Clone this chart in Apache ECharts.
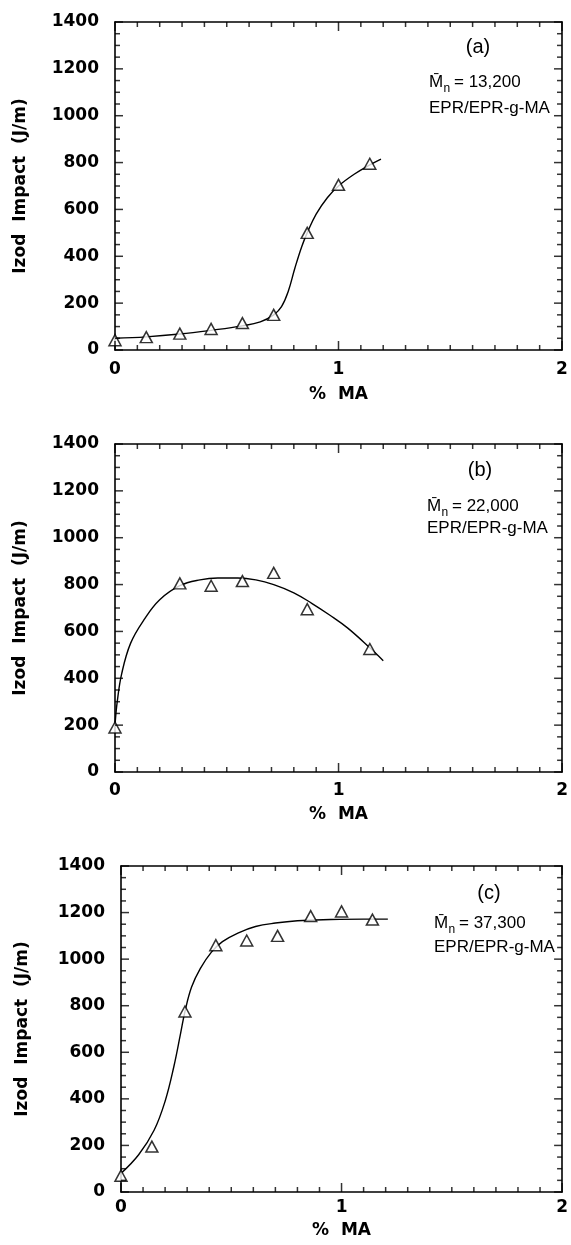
<!DOCTYPE html>
<html>
<head>
<meta charset="utf-8">
<style>html,body{margin:0;padding:0;background:#fff;}#chart{width:571px;height:1245px;}</style>
<script src="https://cdn.jsdelivr.net/npm/echarts@6/dist/echarts.min.js"></script>
</head>
<body>
<div id="chart"></div>
<script>
// ---- data ----
var xTickLabels = ['0', '1', '2'];
var yTickLabels = ['0', '200', '400', '600', '800', '1000', '1200', '1400'];
var xTickValues = [0, 0.1, 0.2, 0.3, 0.4, 0.5, 0.6, 0.7, 0.8, 0.9, 1, 1.1, 1.2, 1.3, 1.4, 1.5, 1.6, 1.7, 1.8, 1.9, 2];
var yTickValues = [0, 50, 100, 150, 200, 250, 300, 350, 400, 450, 500, 550, 600, 650, 700, 750, 800, 850, 900, 950, 1000, 1050, 1100, 1150, 1200, 1250, 1300, 1350, 1400];

// panel (a)  Mn = 13,200
var maA = [0, 0.14, 0.29, 0.43, 0.57, 0.71, 0.86, 1.0, 1.14];
var impactA = [42, 55, 70, 90, 115, 150, 500, 705, 795];
var curveAx = [0, 0.14, 0.29, 0.43, 0.57, 0.65, 0.71, 0.745, 0.775, 0.805, 0.835, 0.86, 0.9, 0.95, 1.0, 1.07, 1.14, 1.19];
var curveAy = [50, 56, 68, 84, 103, 120, 150, 185, 250, 350, 440, 500, 580, 650, 700, 750, 790, 815];

// panel (b)  Mn = 22,000
var maB = [0, 0.29, 0.43, 0.57, 0.71, 0.86, 1.14];
var impactB = [190, 805, 795, 815, 850, 695, 525];
var curveBx = [0, 0.01, 0.03, 0.07, 0.13, 0.2, 0.29, 0.38, 0.46, 0.55, 0.63, 0.71, 0.8, 0.88, 0.96, 1.04, 1.14, 1.2];
var curveBy = [200, 300, 420, 550, 650, 735, 795, 820, 828, 828, 820, 800, 765, 720, 670, 615, 530, 475];

// panel (c)  Mn = 37,300
var maC = [0, 0.14, 0.29, 0.43, 0.57, 0.71, 0.86, 1.0, 1.14];
var impactC = [70, 195, 775, 1060, 1080, 1100, 1185, 1205, 1170];
var curveCx = [0, 0.08, 0.15, 0.2, 0.24, 0.27, 0.29, 0.32, 0.36, 0.41, 0.46, 0.53, 0.61, 0.7, 0.8, 0.95, 1.1, 1.21];
var curveCy = [80, 160, 265, 390, 540, 680, 775, 880, 960, 1030, 1075, 1112, 1140, 1155, 1165, 1170, 1172, 1172];

var panelLetters = ['(a)', '(b)', '(c)'];
var mnValues = ['13,200', '22,000', '37,300'];
var blendLabel = 'EPR/EPR-g-MA';
var xName = '%  MA';
var yName = 'Izod  Impact  (J/m)';

// ---- layout ----
var X_MIN = 0, X_MAX = 2, Y_MIN = 0, Y_MAX = 1400;
var grids = [
  {left: 115, top: 22, width: 447, height: 328, xMargin: 11, nameGap: 36, yNameGap: 86},
  {left: 115, top: 444, width: 448, height: 328, xMargin: 10, nameGap: 34, yNameGap: 86},
  {left: 121, top: 866, width: 446, height: 326, xMargin: 7, nameGap: 30, yNameGap: 90}
];
var annot = [
  {px: 478, py: 47, mx: 429, my: 82, ey: 108},
  {px: 480, py: 470, mx: 427, my: 506, ey: 528},
  {px: 489, py: 893, mx: 434, my: 923, ey: 947}
];

var boldFont = 'DejaVu Sans';
var lineStyle = {color: '#000', width: 1.6};
var TICK_W = 1.5;

function xAxisCfg(gi, top) {
  return {
    type: 'value', gridIndex: gi, min: X_MIN, max: X_MAX, interval: 1,
    position: top ? 'top' : 'bottom',
    name: top ? '' : xName, nameLocation: 'middle', nameGap: grids[gi].nameGap,
    nameTextStyle: {fontFamily: boldFont, fontWeight: 'bold', fontSize: 17, color: '#000'},
    axisLine: {show: true, onZero: false, lineStyle: lineStyle},
    axisTick: {show: false}, minorTick: {show: false},
    axisLabel: {show: !top, margin: grids[gi].xMargin, fontFamily: boldFont, fontWeight: 'bold', fontSize: 17, color: '#000',
      formatter: function (v) { return xTickLabels[Math.round(v)]; }},
    splitLine: {show: false}, minorSplitLine: {show: false}
  };
}
function yAxisCfg(gi, right) {
  return {
    type: 'value', gridIndex: gi, min: Y_MIN, max: Y_MAX, interval: 200,
    position: right ? 'right' : 'left',
    name: right ? '' : yName, nameLocation: 'middle', nameGap: grids[gi].yNameGap, nameRotate: 90,
    nameTextStyle: {fontFamily: boldFont, fontWeight: 'bold', fontSize: 17, color: '#000'},
    axisLine: {show: true, onZero: false, lineStyle: lineStyle},
    axisTick: {show: false}, minorTick: {show: false},
    axisLabel: {show: !right, margin: 16, fontFamily: boldFont, fontWeight: 'bold', fontSize: 17, color: '#000',
      formatter: function (v) { return yTickLabels[Math.round(v / 200)]; }},
    splitLine: {show: false}, minorSplitLine: {show: false}
  };
}
function zip(xs, ys) { return xs.map(function (x, i) { return [x, ys[i]]; }); }

// inward tick marks drawn as thin rect symbols placed through the axes' scales
function tickSeries(g, side) {
  var items;
  if (side === 'bottom' || side === 'top') {
    items = xTickValues.map(function (v) {
      var len = Math.abs(v - Math.round(v)) < 1e-6 ? 9 : 5;
      var dir = side === 'bottom' ? -1 : 1;
      return {value: [v, side === 'bottom' ? Y_MIN : Y_MAX], symbolSize: [TICK_W, len], symbolOffset: [0, dir * len / 2]};
    });
  } else {
    items = yTickValues.map(function (v) {
      var len = (Math.round(v) % 200 === 0) ? 8 : 5;
      var dir = side === 'left' ? 1 : -1;
      return {value: [side === 'left' ? X_MIN : X_MAX, v], symbolSize: [len, TICK_W], symbolOffset: [dir * len / 2, 0]};
    });
  }
  return {
    type: 'scatter', xAxisIndex: 2 * g, yAxisIndex: 2 * g, data: items,
    symbol: 'rect', clip: false, silent: true, z: 4,
    itemStyle: {color: '#000', borderWidth: 0},
    emphasis: {disabled: true}
  };
}

var xAxes = [], yAxes = [], series = [], graphics = [];
var pts = [[maA, impactA], [maB, impactB], [maC, impactC]];
var curves = [[curveAx, curveAy], [curveBx, curveBy], [curveCx, curveCy]];
for (var g = 0; g < 3; g++) {
  xAxes.push(xAxisCfg(g, false)); xAxes.push(xAxisCfg(g, true));
  yAxes.push(yAxisCfg(g, false)); yAxes.push(yAxisCfg(g, true));
  series.push({
    type: 'line', xAxisIndex: 2 * g, yAxisIndex: 2 * g, data: zip(curves[g][0], curves[g][1]),
    smooth: 0.4, showSymbol: false, symbol: 'none',
    lineStyle: {color: '#000', width: 1.4}, silent: true, z: 2
  });
  series.push({
    type: 'scatter', xAxisIndex: 2 * g, yAxisIndex: 2 * g, data: zip(pts[g][0], pts[g][1]),
    symbol: 'triangle', symbolSize: [12, 11],
    itemStyle: {color: '#fff', borderColor: '#000', borderWidth: 1.5}, z: 3
  });
  ['bottom', 'top', 'left', 'right'].forEach(function (s) { series.push(tickSeries(g, s)); });
  var a = annot[g];
  graphics.push({type: 'text', x: a.px, y: a.py, z: 10,
    style: {text: panelLetters[g], font: '20px "Liberation Sans"', fill: '#000', align: 'center', verticalAlign: 'middle'}});
  graphics.push({type: 'text', x: a.mx, y: a.my, z: 10,
    style: {text: 'M\u0304', font: '17px "Liberation Sans"', fill: '#000', align: 'left', verticalAlign: 'middle'}});
  graphics.push({type: 'text', x: a.mx + 14.5, y: a.my + 7, z: 10,
    style: {text: 'n', font: '12px "Liberation Sans"', fill: '#000', align: 'left', verticalAlign: 'middle'}});
  graphics.push({type: 'text', x: a.mx + 25, y: a.my, z: 10,
    style: {text: '= ' + mnValues[g], font: '17px "Liberation Sans"', fill: '#000', align: 'left', verticalAlign: 'middle'}});
  graphics.push({type: 'text', x: a.mx, y: a.ey, z: 10,
    style: {text: blendLabel, font: '17px "Liberation Sans"', fill: '#000', align: 'left', verticalAlign: 'middle'}});
}

var chart = echarts.init(document.getElementById('chart'), null, {renderer: 'canvas'});
chart.setOption({
  animation: false,
  backgroundColor: '#fff',
  grid: grids.map(function (gr) { return {left: gr.left, top: gr.top, width: gr.width, height: gr.height}; }),
  xAxis: xAxes,
  yAxis: yAxes,
  series: series,
  graphic: graphics
});
</script>
</body>
</html>
